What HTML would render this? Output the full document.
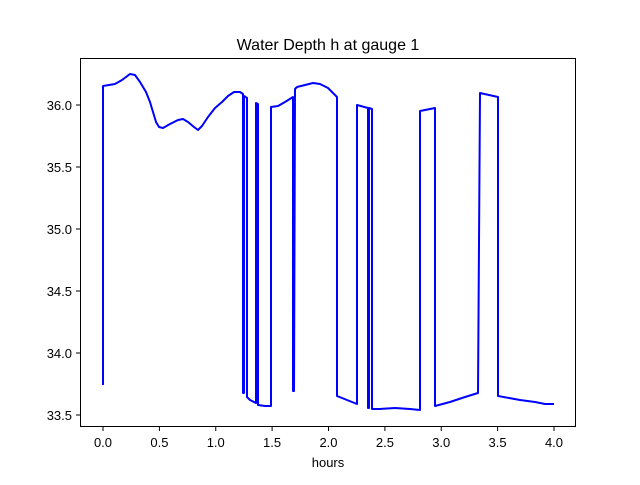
<!DOCTYPE html>
<html><head><style>body{margin:0;background:#fff}</style></head><body>
<svg width="640" height="480" xmlns="http://www.w3.org/2000/svg" font-family="Liberation Sans, DejaVu Sans, sans-serif">
<rect width="640" height="480" fill="#fff"/>
<text x="328" y="50" font-size="16" text-anchor="middle">Water Depth h at gauge 1</text>
<polyline fill="none" stroke="#0000ff" stroke-width="2" stroke-linejoin="round" points="103,385 103,86 115,84 122,80 130,74 135,75 140,82 146,92 150,102 153,112 156,122 159,127 163,128 170,124 178,120 183,119 188,122 194,127 198,130 202,126 208,117 215,108 222,102 228,96 234,92 240,92 243,94 243,393 244,393 244,96 247,98 247,397 250,400 256,403 256,103 258,104 258,405 265,406 271,406 271,107 278,106 285,102 293,97 293,391 294,391 295,89 297,87 305,85 313,83 320,84 328,88 335,95 337,97 337,396 357,404 357,105 368,108 368,408 369,408 369,108 372,109 372,409 380,409 395,408 410,409 420,410 420,111 435,108 435,406 450,402 465,397 478,393 480,93 498,97 498,396 520,400 535,402 545,404 554,404"/>
<rect x="80.5" y="58.5" width="495" height="368" fill="none" stroke="#000" stroke-width="1"/>
<g stroke="#000" stroke-width="1">
<line x1="103" y1="427" x2="103" y2="431"/><line x1="159.4" y1="427" x2="159.4" y2="431"/><line x1="215.75" y1="427" x2="215.75" y2="431"/><line x1="272.1" y1="427" x2="272.1" y2="431"/><line x1="328.5" y1="427" x2="328.5" y2="431"/><line x1="384.9" y1="427" x2="384.9" y2="431"/><line x1="441.25" y1="427" x2="441.25" y2="431"/><line x1="497.6" y1="427" x2="497.6" y2="431"/><line x1="554" y1="427" x2="554" y2="431"/>
<line x1="76" y1="415" x2="80" y2="415"/><line x1="76" y1="353" x2="80" y2="353"/><line x1="76" y1="291" x2="80" y2="291"/><line x1="76" y1="229" x2="80" y2="229"/><line x1="76" y1="167" x2="80" y2="167"/><line x1="76" y1="105" x2="80" y2="105"/>
</g>
<g font-size="13" text-anchor="middle">
<text x="103" y="447">0.0</text><text x="159.4" y="447">0.5</text><text x="215.75" y="447">1.0</text><text x="272.1" y="447">1.5</text><text x="328.5" y="447">2.0</text><text x="384.9" y="447">2.5</text><text x="441.25" y="447">3.0</text><text x="497.6" y="447">3.5</text><text x="554" y="447">4.0</text>
<text x="328" y="467">hours</text>
</g>
<g font-size="13" text-anchor="end">
<text x="72" y="420">33.5</text><text x="72" y="358">34.0</text><text x="72" y="296">34.5</text><text x="72" y="234">35.0</text><text x="72" y="172">35.5</text><text x="72" y="110">36.0</text>
</g>
</svg>
</body></html>
